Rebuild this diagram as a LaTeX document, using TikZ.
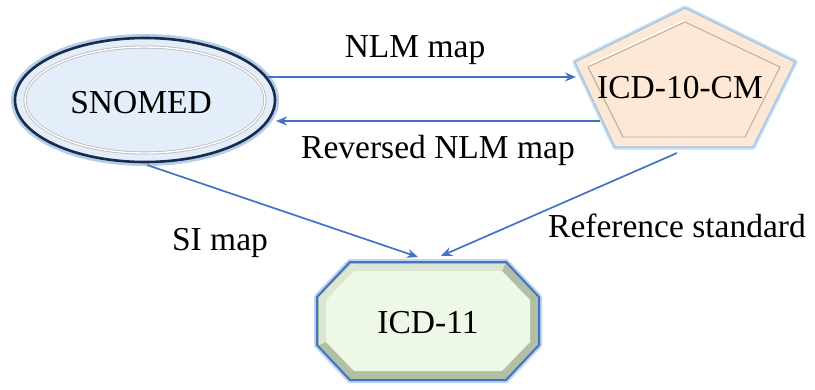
\documentclass[tikz,border=0pt]{standalone}
\usepackage{fontspec}
\setmainfont{Liberation Serif}
\usetikzlibrary{arrows.meta}
\definecolor{arrowblue}{HTML}{4472C4}
\definecolor{glowblue}{HTML}{9DC3E6}
\definecolor{navy}{HTML}{1A2A4A}
\definecolor{snofill}{HTML}{E4EDFA}
\definecolor{peach}{HTML}{FCE8D4}
\definecolor{peachline}{HTML}{B8AA9C}
\definecolor{greenfill}{HTML}{EEF8E6}
\definecolor{bevel}{HTML}{B3BFA5}
\definecolor{bevellight}{HTML}{DCE6D2}
\tikzset{
  lbl/.style={anchor=base, inner sep=0pt, font=\fontsize{33.5}{40}\selectfont},
  conn/.style={draw=arrowblue, line width=1.7pt, -{Stealth[length=11pt,width=9pt]}},
}
\begin{document}
\begin{tikzpicture}[x=1pt,y=-1pt]
\useasboundingbox[fill=white] (0,0) rectangle (815,389);
% SNOMED ellipse
\draw[glowblue!80, line width=8pt] (145,100) ellipse [x radius=130, y radius=62];
\draw[navy, line width=2.6pt, fill=snofill] (145,100) ellipse [x radius=130, y radius=62];
\draw[gray!55, line width=3pt] (145,100) ellipse [x radius=120, y radius=53];
\draw[white, line width=1.4pt] (145,100) ellipse [x radius=120, y radius=53];
\node[lbl] (snomed) at (141,113) {SNOMED};
% ICD-10-CM pentagon
\draw[glowblue!60, line width=5pt, line join=round] (685,8) -- (795,62) -- (753,147) -- (615,147) -- (575,62) -- cycle;
\draw[glowblue, line width=1.2pt, fill=peach, line join=round] (685,8) -- (795,62) -- (753,147) -- (615,147) -- (575,62) -- cycle;
\draw[peachline, line width=0.9pt] (685,22) -- (780,67) -- (745,137) -- (623,137) -- (588,67) -- cycle;
\draw[white, line width=1.2pt] (588,65) -- (685,20);
\node[lbl] (icd10) at (680,98) {ICD-10-CM};
% ICD-11 octagon
\draw[glowblue!70, line width=6pt, line join=round] (350,262) -- (506,262) -- (539,297) -- (539,345) -- (506,380) -- (350,380) -- (317,345) -- (317,297) -- cycle;
\draw[arrowblue, line width=2pt, fill=bevel, line join=round] (350,262) -- (506,262) -- (539,297) -- (539,345) -- (506,380) -- (350,380) -- (317,345) -- (317,297) -- cycle;
\fill[bevellight] (351,264) -- (505,264) -- (502,271) -- (354,271) -- (326,300) -- (326,342) -- (319,345) -- (319,297) -- cycle;
\fill[greenfill] (354,271) -- (502,271) -- (530,300) -- (530,342) -- (502,371) -- (354,371) -- (326,342) -- (326,300) -- cycle;
\node[lbl] (icd11) at (428,333) {ICD-11};
% connector end points
\coordinate (a1) at (267,77);
\coordinate (a2) at (576,77);
\coordinate (b1) at (600,121);
\coordinate (b2) at (276,121);
\coordinate (c1) at (147,165);
\coordinate (c2) at (418,257);
\coordinate (d1) at (677,153);
\coordinate (d2) at (441,256);
\draw[conn] (a1) -- (a2);
\draw[conn] (b1) -- (b2);
\draw[conn] (c1) -- (c2);
\draw[conn] (d1) -- (d2);
% labels
\node[lbl] (l1) at (415,57) {NLM map};
\node[lbl] (l2) at (438,158) {Reversed NLM map};
\node[lbl] (l3) at (220,250) {SI map};
\node[lbl] (l4) at (677,237) {Reference standard};
\end{tikzpicture}
\end{document}
